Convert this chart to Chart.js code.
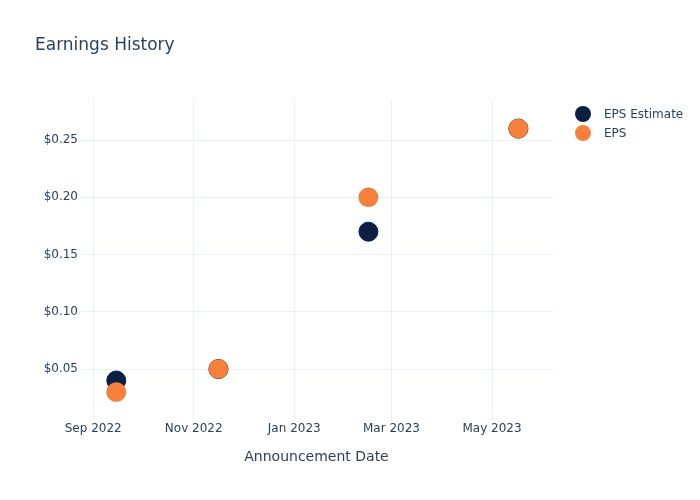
<!DOCTYPE html>
<html>
<head>
<meta charset="utf-8">
<script src="https://cdn.jsdelivr.net/npm/chart.js@4.4.1/dist/chart.umd.min.js"></script>
<style>
  html, body { margin: 0; padding: 0; background: #fff; }
  #wrap { width: 700px; height: 500px; }
</style>
</head>
<body>
<div id="wrap"><canvas id="chartEarnings" width="700" height="500"></canvas></div>
<script>
// ---- data ----
const announceDates = ["2022-09-15", "2022-11-16", "2023-02-15", "2023-05-17"];
const epsEstimate = [0.04, 0.05, 0.17, 0.26];
const epsActual = [0.03, 0.05, 0.20, 0.26];

const xTickDates = ["2022-09-01", "2022-11-01", "2023-01-01", "2023-03-01", "2023-05-01"];
const xTickLabels = ["Sep 2022", "Nov 2022", "Jan 2023", "Mar 2023", "May 2023"];
const yTickValues = [0.05, 0.10, 0.15, 0.20, 0.25];

const xRange = ["2022-08-24", "2023-06-07"];
const yRange = [0.0055, 0.285];

const FONT = "'DejaVu Sans', sans-serif";
const TEXT = "#2a3f5f";
const GRID = "#ebf0f8";

const ts = d => Date.parse(d + "T00:00:00Z");
const toPoints = vals => vals.map((v, i) => ({ x: ts(announceDates[i]), y: v }));

// simple plotly-like legend drawn to the right of the plot
const sideLegend = {
  id: "sideLegend",
  afterDraw(chart) {
    const { ctx, chartArea } = chart;
    const x = chartArea.right + 30;
    let y = chartArea.top + 14;
    ctx.save();
    ctx.font = "12px " + FONT;
    ctx.textBaseline = "middle";
    chart.data.datasets.forEach(ds => {
      ctx.beginPath();
      ctx.arc(x, y, 8, 0, Math.PI * 2);
      ctx.fillStyle = ds.backgroundColor;
      ctx.fill();
      ctx.fillStyle = TEXT;
      ctx.fillText(ds.label, x + 21, y + 1);
      y += 19;
    });
    ctx.restore();
  }
};

new Chart(document.getElementById("chartEarnings"), {
  type: "scatter",
  data: {
    datasets: [
      {
        label: "EPS Estimate",
        data: toPoints(epsEstimate),
        backgroundColor: "#0b1f44",
        borderColor: "#0b1f44",
        borderWidth: 1,
        pointRadius: 9.5,
        pointHoverRadius: 9.5,
        order: 1
      },
      {
        label: "EPS",
        data: toPoints(epsActual),
        backgroundColor: "#f7813a",
        borderColor: "rgba(150,90,50,0.3)",
        borderWidth: 0.6,
        pointRadius: 9.8,
        pointHoverRadius: 9.8,
        order: 0
      }
    ]
  },
  options: {
    responsive: false,
    animation: false,
    layout: { padding: { left: 35, right: 147, top: 0, bottom: 0 } },
    plugins: {
      legend: { display: false },
      tooltip: { enabled: false },
      title: {
        display: true,
        text: "Earnings History",
        align: "start",
        color: TEXT,
        font: { family: FONT, size: 17, weight: "normal" },
        padding: { top: 35, bottom: 44.6 }
      }
    },
    scales: {
      x: {
        type: "linear",
        min: ts(xRange[0]),
        max: ts(xRange[1]),
        afterBuildTicks: s => { s.ticks = xTickDates.map(d => ({ value: ts(d) })); },
        afterFit: s => { s.height = 80; },
        ticks: {
          color: TEXT,
          font: { family: FONT, size: 12 },
          padding: 2,
          maxRotation: 0,
          autoSkip: false,
          callback: (v, i) => xTickLabels[i]
        },
        grid: { color: GRID, drawTicks: false },
        border: { display: false },
        title: {
          display: true,
          text: "Announcement Date",
          color: TEXT,
          font: { family: FONT, size: 14 },
          padding: { top: 0, bottom: 34 }
        }
      },
      y: {
        min: yRange[0],
        max: yRange[1],
        afterBuildTicks: s => { s.ticks = yTickValues.map(v => ({ value: v })); },
        afterFit: s => { s.width = 45; },
        ticks: {
          color: TEXT,
          font: { family: FONT, size: 12 },
          padding: 2,
          callback: v => "$" + v.toFixed(2)
        },
        grid: { color: GRID, drawTicks: false },
        border: { display: false }
      }
    }
  },
  plugins: [sideLegend]
});
</script>
</body>
</html>
